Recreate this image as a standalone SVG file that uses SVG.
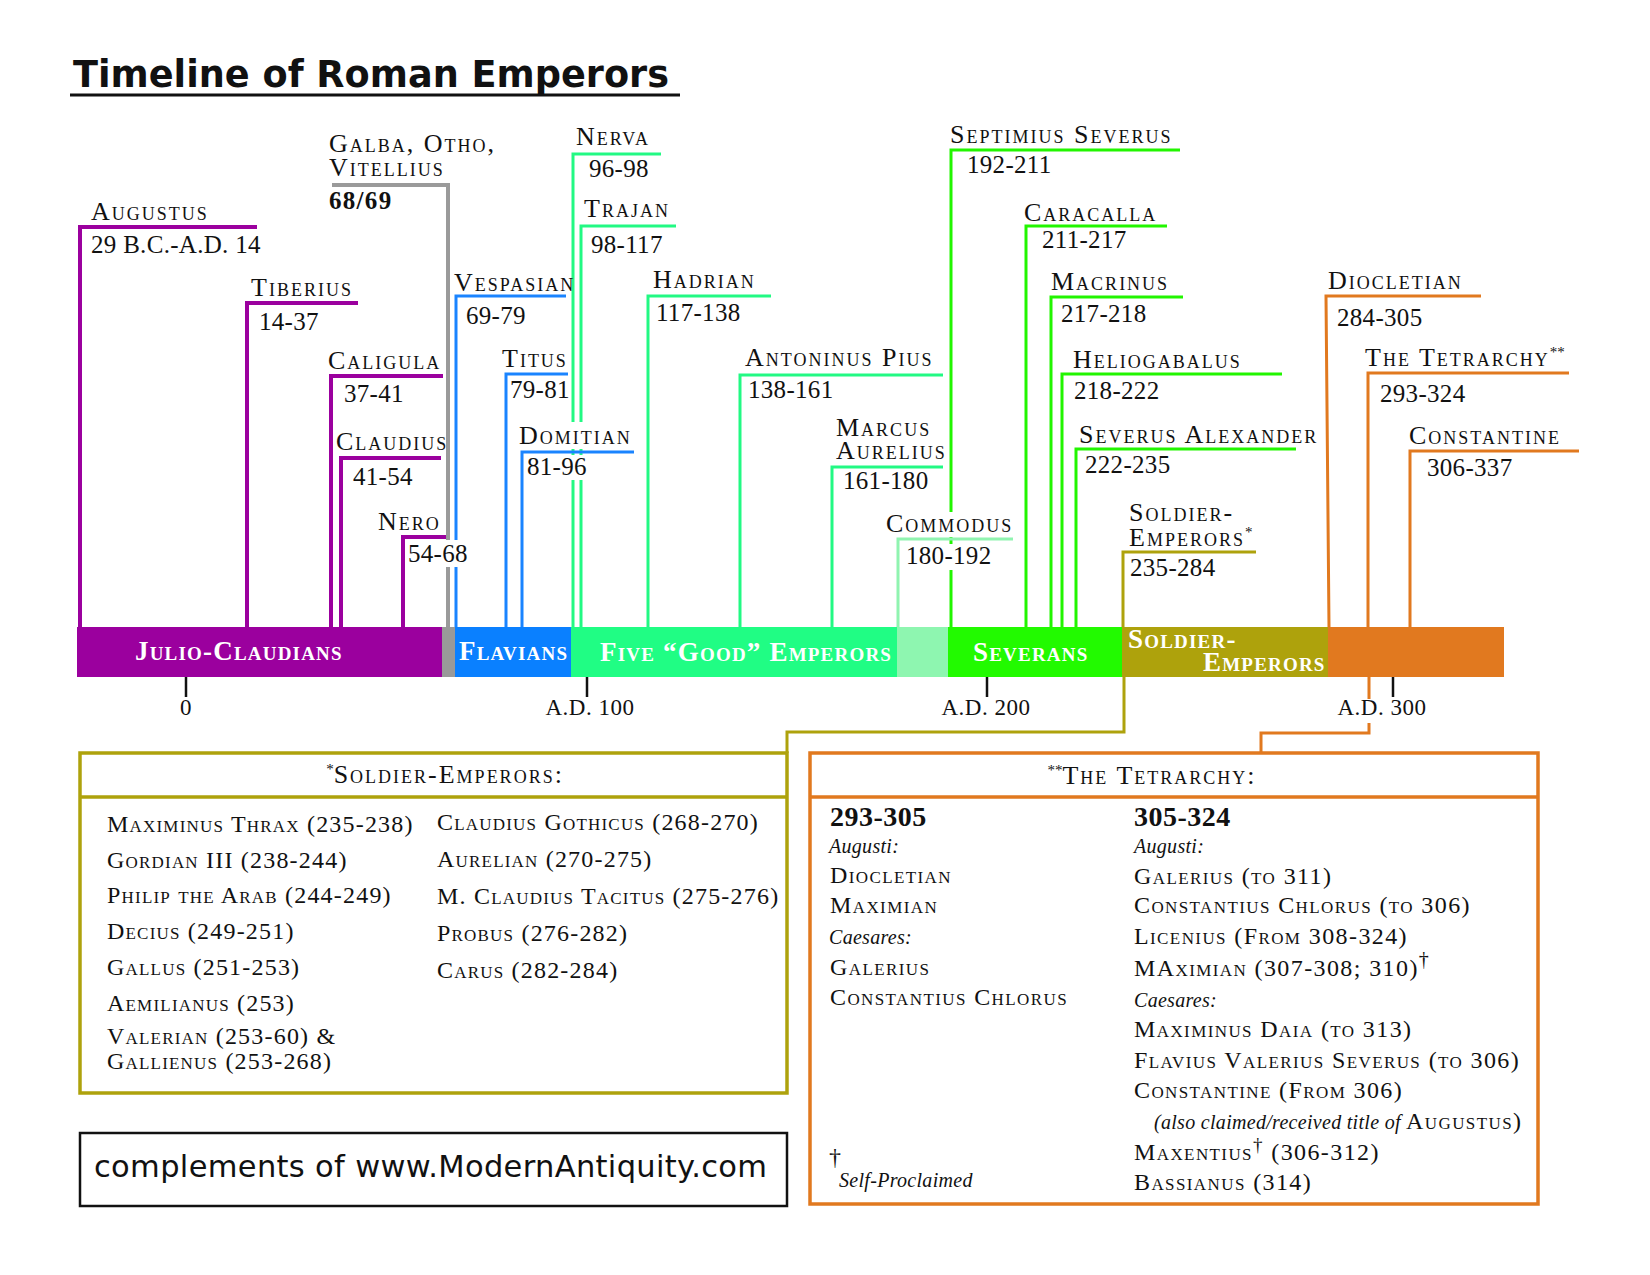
<svg xmlns="http://www.w3.org/2000/svg" width="1650" height="1275" viewBox="0 0 1650 1275">
<style>
text{font-family:"Liberation Serif","Times New Roman",serif;fill:#111}
.nm{font-size:26px;font-variant:small-caps;letter-spacing:2px}
.dt{font-size:25px;letter-spacing:0.3px}
.b69{font-size:25px;font-weight:bold;letter-spacing:1.3px}
.bt{font-size:27px;font-weight:bold;font-variant:small-caps;letter-spacing:1.2px;fill:#fff}
.ax{font-size:23px;letter-spacing:0.5px;text-anchor:middle}
.hd{font-size:26px;font-variant:small-caps;letter-spacing:2px;text-anchor:middle}
.sl{font-size:24px;font-variant:small-caps;letter-spacing:1.2px}
.tl{font-size:24px;font-variant:small-caps;letter-spacing:1.4px}
.it{font-size:20px;font-style:italic;font-variant:normal;letter-spacing:0.3px}
.yr{font-size:28px;font-weight:bold;letter-spacing:0.5px}
.ttl{font-family:"DejaVu Sans",sans-serif;font-weight:bold;font-size:37px}
.web{font-family:"DejaVu Sans",sans-serif;font-size:30.5px}
.ln{fill:none;stroke-width:3}
.pu{stroke:#9b009e;stroke-width:4}
.gy{stroke:#9a9a9a;stroke-width:4}
.bl{stroke:#1a84ff}
.gr{stroke:#22f983}
.lg{stroke:#90f4b0}
.sv{stroke:#22f500}
.ol{stroke:#aea20c}
.or{stroke:#e1791f}
.mask{fill:#fff}
.tick{stroke:#111;stroke-width:2.5}
</style>

<g id="title">
<text class="ttl" x="73" y="87" textLength="596" lengthAdjust="spacingAndGlyphs">Timeline of Roman Emperors</text>
<line x1="70" y1="95" x2="680" y2="95" stroke="#111" stroke-width="3"/>
</g>

<g id="connectors">
<path class="ln pu" d="M80,627V227H257"/>
<path class="ln pu" d="M247,627V303H358"/>
<path class="ln pu" d="M331,627V376H443"/>
<path class="ln pu" d="M341,627V458H441"/>
<path class="ln pu" d="M403,627V537H447"/>
<path class="ln gy" d="M332,185H448V627"/>
<path class="ln bl" d="M456,627V296H566"/>
<path class="ln bl" d="M506,627V374H568"/>
<path class="ln gr" d="M573,627V154H661"/>
<path class="ln gr" d="M581,627V226H676"/>
<path class="ln bl" d="M522,627V452H634"/>
<path class="ln gr" d="M648,627V296H771"/>
<path class="ln gr" d="M740,627V375H943"/>
<path class="ln gr" d="M832,627V467H943"/>
<path class="ln sv" d="M951,627V150H1180"/>
<path class="ln lg" d="M898,627V539H1013"/>
<path class="ln sv" d="M1026,627V226H1167"/>
<path class="ln sv" d="M1051,627V297H1183"/>
<path class="ln sv" d="M1062,627V374H1282"/>
<path class="ln sv" d="M1076,627V449H1296"/>
<path class="ln ol" d="M1123,627V552H1256"/>
<path class="ln or" d="M1329,627L1326,296H1481"/>
<path class="ln or" d="M1368,627V373H1569"/>
<path class="ln or" d="M1410,627V451H1579"/>
<path class="ln ol" d="M1124,677V732H787V753"/>
<path class="ln or" d="M1369,677V733H1261V753"/>
</g>

<g id="band">
<g id="era-julio-claudians"><rect x="77" y="627" width="365" height="50" fill="#9b009e"/><text class="bt" x="135" y="660">Julio-Claudians</text></g>
<g id="era-68-69"><rect x="442" y="627" width="13" height="50" fill="#999999"/></g>
<g id="era-flavians"><rect x="455" y="627" width="116" height="50" fill="#0a80ff"/><text class="bt" x="459" y="660">Flavians</text></g>
<g id="era-five-good"><rect x="571" y="627" width="326" height="50" fill="#20fd84"/><text class="bt" x="600" y="661">Five “Good” Emperors</text></g>
<g id="era-commodus"><rect x="897" y="627" width="51" height="50" fill="#8ef6b0"/></g>
<g id="era-severans"><rect x="948" y="627" width="174" height="50" fill="#22fa00"/><text class="bt" x="973" y="661">Severans</text></g>
<g id="era-soldier-emperors"><rect x="1122" y="627" width="206" height="50" fill="#aea20c"/><text class="bt" x="1128" y="648">Soldier-<tspan x="1203" y="671">Emperors</tspan></text></g>
<g id="era-tetrarchy"><rect x="1328" y="627" width="176" height="50" fill="#e1791f"/></g>
</g>

<g id="masks">
<rect class="mask" x="405" y="540" width="66" height="27"/>
<rect class="mask" x="516" y="422" width="120" height="27"/>
<rect class="mask" x="524" y="455" width="66" height="25"/>
<rect class="mask" x="884" y="512" width="126" height="25"/>
<rect class="mask" x="901" y="544" width="90" height="26"/>
<rect class="mask" x="1336" y="699" width="92" height="24"/>
</g>

<g id="axis">
<line class="tick" x1="186" y1="677" x2="186" y2="697"/>
<line class="tick" x1="587" y1="677" x2="587" y2="697"/>
<line class="tick" x1="987" y1="677" x2="987" y2="697"/>
<line class="tick" x1="1393" y1="677" x2="1393" y2="697"/>
<text class="ax" x="186" y="715">0</text>
<text class="ax" x="590" y="715">A.D. 100</text>
<text class="ax" x="986" y="715">A.D. 200</text>
<text class="ax" x="1382" y="715">A.D. 300</text>
</g>

<g id="augustus"><text class="nm" x="91" y="220">Augustus</text><text class="dt" x="91" y="253">29 B.C.-A.D. 14</text></g>
<g id="tiberius"><text class="nm" x="251" y="296">Tiberius</text><text class="dt" x="259" y="330">14-37</text></g>
<g id="caligula"><text class="nm" x="328" y="369">Caligula</text><text class="dt" x="344" y="402">37-41</text></g>
<g id="claudius"><text class="nm" x="336" y="450">Claudius</text><text class="dt" x="353" y="485">41-54</text></g>
<g id="nero"><text class="nm" x="378" y="530">Nero</text><text class="dt" x="408" y="562">54-68</text></g>
<g id="galba-otho-vitellius"><text class="nm" x="329" y="152">Galba, Otho,<tspan x="329" y="176">Vitellius</tspan></text><text class="b69" x="329" y="209">68/69</text></g>
<g id="vespasian"><text class="nm" x="454" y="291">Vespasian</text><text class="dt" x="466" y="324">69-79</text></g>
<g id="titus"><text class="nm" x="502" y="367">Titus</text><text class="dt" x="510" y="398">79-81</text></g>
<g id="domitian"><text class="nm" x="519" y="444">Domitian</text><text class="dt" x="527" y="475">81-96</text></g>
<g id="nerva"><text class="nm" x="576" y="145">Nerva</text><text class="dt" x="589" y="177">96-98</text></g>
<g id="trajan"><text class="nm" x="584" y="217">Trajan</text><text class="dt" x="591" y="253">98-117</text></g>
<g id="hadrian"><text class="nm" x="653" y="288">Hadrian</text><text class="dt" x="656" y="321">117-138</text></g>
<g id="antoninus-pius"><text class="nm" x="745" y="366">Antoninus Pius</text><text class="dt" x="748" y="398">138-161</text></g>
<g id="marcus-aurelius"><text class="nm" x="836" y="436">Marcus<tspan x="836" y="459">Aurelius</tspan></text><text class="dt" x="843" y="489">161-180</text></g>
<g id="commodus"><text class="nm" x="886" y="532">Commodus</text><text class="dt" x="906" y="564">180-192</text></g>
<g id="septimius-severus"><text class="nm" x="950" y="143">Septimius Severus</text><text class="dt" x="967" y="173">192-211</text></g>
<g id="caracalla"><text class="nm" x="1024" y="221">Caracalla</text><text class="dt" x="1042" y="248">211-217</text></g>
<g id="macrinus"><text class="nm" x="1051" y="290">Macrinus</text><text class="dt" x="1061" y="322">217-218</text></g>
<g id="heliogabalus"><text class="nm" x="1073" y="368">Heliogabalus</text><text class="dt" x="1074" y="399">218-222</text></g>
<g id="severus-alexander"><text class="nm" x="1079" y="443">Severus Alexander</text><text class="dt" x="1085" y="473">222-235</text></g>
<g id="soldier-emperors"><text class="nm" x="1129" y="521">Soldier-<tspan x="1129" y="546">Emperors</tspan><tspan font-size="15" dy="-9" letter-spacing="0">*</tspan></text><text class="dt" x="1130" y="576">235-284</text></g>
<g id="diocletian"><text class="nm" x="1328" y="289">Diocletian</text><text class="dt" x="1337" y="326">284-305</text></g>
<g id="the-tetrarchy"><text class="nm" x="1365" y="366">The Tetrarchy<tspan font-size="15" dy="-9" letter-spacing="0">**</tspan></text><text class="dt" x="1380" y="402">293-324</text></g>
<g id="constantine"><text class="nm" x="1409" y="444">Constantine</text><text class="dt" x="1427" y="476">306-337</text></g>

<g id="soldier-emperors-box">
<rect x="80" y="753" width="707" height="340" fill="none" stroke="#aea20c" stroke-width="3.5"/>
<line x1="80" y1="797" x2="787" y2="797" stroke="#aea20c" stroke-width="3.5"/>
<text class="hd" x="445" y="783"><tspan font-size="15" dy="-9" letter-spacing="0">*</tspan><tspan dy="9">Soldier-Emperors:</tspan></text>
<text class="sl" x="107" y="832">Maximinus Thrax (235-238)</text>
<text class="sl" x="107" y="868">Gordian III (238-244)</text>
<text class="sl" x="107" y="903">Philip the Arab (244-249)</text>
<text class="sl" x="107" y="939">Decius (249-251)</text>
<text class="sl" x="107" y="975">Gallus (251-253)</text>
<text class="sl" x="107" y="1011">Aemilianus (253)</text>
<text class="sl" x="107" y="1044">Valerian (253-60) &amp;<tspan x="107" y="1069">Gallienus (253-268)</tspan></text>
<text class="sl" x="437" y="830">Claudius Gothicus (268-270)</text>
<text class="sl" x="437" y="867">Aurelian (270-275)</text>
<text class="sl" x="437" y="904">M. Claudius Tacitus (275-276)</text>
<text class="sl" x="437" y="941">Probus (276-282)</text>
<text class="sl" x="437" y="978">Carus (282-284)</text>
</g>

<g id="tetrarchy-box">
<rect x="810" y="753" width="728" height="451" fill="none" stroke="#e1791f" stroke-width="3.5"/>
<line x1="810" y1="797" x2="1538" y2="797" stroke="#e1791f" stroke-width="3.5"/>
<text class="hd" x="1152" y="784"><tspan font-size="15" dy="-9" letter-spacing="0">**</tspan><tspan dy="9">The Tetrarchy:</tspan></text>
<text class="yr" x="830" y="826">293-305</text>
<text class="it" x="829" y="853">Augusti:</text>
<text class="tl" x="830" y="883">Diocletian</text>
<text class="tl" x="830" y="913">Maximian</text>
<text class="it" x="829" y="944">Caesares:</text>
<text class="tl" x="830" y="975">Galerius</text>
<text class="tl" x="830" y="1005">Constantius Chlorus</text>
<text class="tl" x="829" y="1165">†</text>
<text class="it" x="839" y="1187">Self-Proclaimed</text>
<text class="yr" x="1134" y="826">305-324</text>
<text class="it" x="1134" y="853">Augusti:</text>
<text class="tl" x="1134" y="884">Galerius (to 311)</text>
<text class="tl" x="1134" y="913">Constantius Chlorus (to 306)</text>
<text class="tl" x="1134" y="944">Licenius (From 308-324)</text>
<text class="tl" x="1134" y="976">MAximian (307-308; 310)<tspan font-size="20" dy="-10">†</tspan></text>
<text class="it" x="1134" y="1007">Caesares:</text>
<text class="tl" x="1134" y="1037">Maximinus Daia (to 313)</text>
<text class="tl" x="1134" y="1068">Flavius Valerius Severus (to 306)</text>
<text class="tl" x="1134" y="1098">Constantine (From 306)</text>
<text class="tl" x="1154" y="1129"><tspan class="it" font-size="20">(also claimed/received title of </tspan>Augustus)</text>
<text class="tl" x="1134" y="1160">Maxentius<tspan font-size="19" dy="-9">†</tspan><tspan dy="9"> (306-312)</tspan></text>
<text class="tl" x="1134" y="1190">Bassianus (314)</text>
</g>

<g id="website-box">
<rect x="80" y="1133" width="707" height="73" fill="none" stroke="#111" stroke-width="2.5"/>
<text class="web" x="94" y="1177" textLength="673" lengthAdjust="spacing">complements of www.ModernAntiquity.com</text>
</g>
</svg>
